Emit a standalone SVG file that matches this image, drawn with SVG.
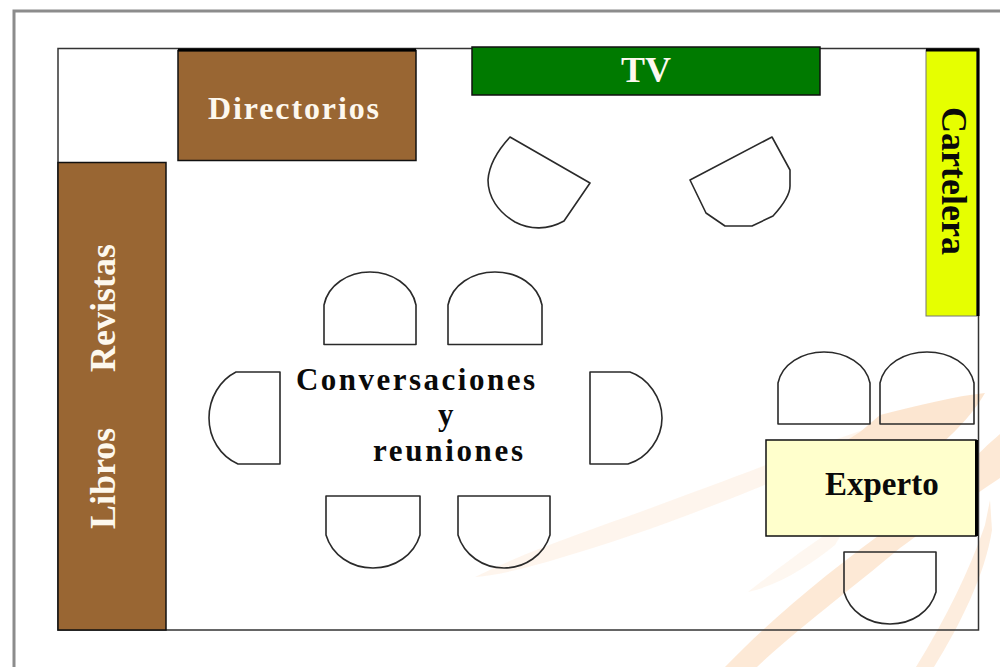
<svg xmlns="http://www.w3.org/2000/svg" width="1000" height="670" viewBox="0 0 1000 670">
<style>
.t{font-family:"Liberation Serif","Times New Roman",serif;font-weight:bold}
.w{fill:#fdf8ee}.k{fill:#0a0a0a}
.box{stroke:#111;stroke-width:1.5}
.chair{fill:none;stroke:#2a2a2a;stroke-width:1.6;stroke-linejoin:round}
.sw{fill:#fce3cc}
</style>
<rect width="1000" height="670" fill="#fff"/>
<g id="swooshes">
<path class="sw" opacity=".35" d="M475 577C530 550 590 530 640 512C700 490 740 475 800 452L880 424L820 462C730 500 640 535 560 558C530 567 500 575 475 577Z"/>
<path class="sw" opacity=".9" d="M880 415C920 405 955 396 985 393C975 410 960 428 940 445L880 470L800 470L860 432Z"/>
<path class="sw" opacity=".8" d="M725 667C770 620 830 570 900 520C945 490 975 455 1000 434V478C975 495 945 515 900 548C850 590 790 635 757 667Z"/>
<path class="sw" opacity=".3" d="M748 592C770 575 795 555 825 535L850 520L835 545C810 565 780 585 748 592Z"/>
<path class="sw" opacity=".65" d="M916 667C945 620 970 570 985 525L990 500L992 530C985 575 960 625 934 667Z"/>
</g>
<path id="frame" d="M1000 11H14V667" fill="none" stroke="#8c8c8c" stroke-width="3"/>
<rect id="room" x="58" y="48.500" width="920.500" height="581.500" fill="none" stroke="#333" stroke-width="1.500"/>
<g id="directorios"><rect class="box" x="178" y="50.500" width="238" height="110" fill="#996633"/><path d="M178 50H416" stroke="#000" stroke-width="3"/><text class="t w" x="208" y="119" font-size="32" textLength="171">Directorios</text></g>
<g id="libros-revistas"><rect class="box" x="58" y="162.500" width="108" height="467.500" fill="#996633"/>
<text class="t w" font-size="36" transform="translate(115 372) rotate(-90)">Revistas</text>
<text class="t w" font-size="36" transform="translate(115 529) rotate(-90)">Libros</text></g>
<g id="tv"><rect class="box" x="472" y="47" width="348" height="48" fill="#007a00"/><text class="t w" x="621" y="82" font-size="36">TV</text></g>
<g id="cartelera"><rect x="926" y="50" width="51" height="266" fill="#e6ff00" stroke="#777" stroke-width="1"/><path d="M926 50H978V316" fill="none" stroke="#000" stroke-width="3"/><text class="t k" font-size="36" transform="translate(942 107) rotate(90)">Cartelera</text></g>
<g id="experto"><rect class="box" x="766" y="440" width="210" height="96" fill="#ffffcc"/><path d="M976.500 440V536" stroke="#000" stroke-width="3"/><text class="t k" x="825" y="495" font-size="33">Experto</text></g>
<g id="chairs">
<path id="chair-tv-left" class="chair" d="M510 137L590 183L564 221C548 230 530 230 515 222C498 212 488 197 488 180C489 165 498 150 510 137Z"/>
<path id="chair-tv-right" class="chair" d="M772 137L690 180L706 213L725 226H752L773 216C783 205 790 195 790 186V170Z"/>
<path id="chair-1" class="chair" d="M324 344.500V305C328 285 348 272 370 272C392 272 412 285 416 305V344.500Z"/>
<path id="chair-2" class="chair" d="M448 344.500V305C452 285 472 272 495 272C518 272 538 285 542 305V344.500Z"/>
<path id="chair-3" class="chair" d="M280 372V464H238C220 456 209 438 209 418C209 398 220 380 236 372Z"/>
<path id="chair-4" class="chair" d="M590 372V464H628C648 458 662 438 662 418C662 398 648 378 630 372Z"/>
<path id="chair-5" class="chair" d="M326 496H420V535C414 555 395 568 373 568C351 568 332 555 326 535Z"/>
<path id="chair-6" class="chair" d="M458 496H550V535C544 555 525 568 504 568C483 568 464 555 458 535Z"/>
<path id="chair-7" class="chair" d="M778 424V383C782 364 802 352 824 352C846 352 866 364 870 383V424Z"/>
<path id="chair-8" class="chair" d="M880 424V383C884 364 904 352 927 352C950 352 970 364 974 383V424Z"/>
<path id="chair-9" class="chair" d="M844 552H936V592C930 612 912 624 890 624C868 624 850 612 844 592Z"/>
</g>
<g id="conversaciones">
<text class="t k" x="296" y="390" font-size="31" textLength="239">Conversaciones</text>
<text class="t k" x="438" y="425" font-size="31">y</text>
<text class="t k" x="373" y="461" font-size="31" textLength="150">reuniones</text>
</g>
</svg>
